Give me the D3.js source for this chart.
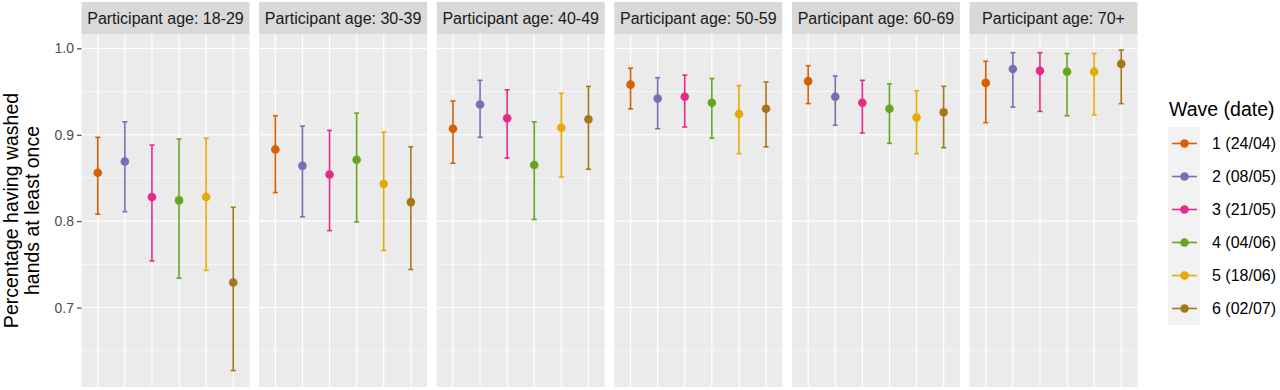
<!DOCTYPE html>
<html>
<head>
<meta charset="utf-8">
<script src="https://cdn.jsdelivr.net/npm/d3@7"></script>
<style>
  html, body { margin: 0; padding: 0; background: #fff; }
  svg { display: block; font-family: "Liberation Sans", Arial, Helvetica, sans-serif; }
</style>
</head>
<body>
<svg id="chart" width="1280" height="390"></svg>
<script>
// ---- data ----
const ageGroups = ["18-29", "30-39", "40-49", "50-59", "60-69", "70+"];
const waves = ["1 (24/04)", "2 (08/05)", "3 (21/05)", "4 (04/06)", "5 (18/06)", "6 (02/07)"];
const waveColors = ["#D95F02", "#7570B3", "#E7298A", "#66A61E", "#E6AB02", "#A6761D"];
// estimates per age group (rows) and wave (columns)
const estimate = [
  [0.856, 0.869, 0.828, 0.824, 0.828, 0.729],
  [0.883, 0.864, 0.854, 0.871, 0.843, 0.822],
  [0.907, 0.935, 0.919, 0.865, 0.908, 0.918],
  [0.958, 0.942, 0.944, 0.937, 0.924, 0.930],
  [0.962, 0.944, 0.937, 0.930, 0.920, 0.926],
  [0.960, 0.976, 0.974, 0.973, 0.973, 0.982]
];
const lower = [
  [0.808, 0.811, 0.754, 0.734, 0.743, 0.627],
  [0.833, 0.805, 0.789, 0.799, 0.766, 0.744],
  [0.867, 0.897, 0.873, 0.802, 0.851, 0.860],
  [0.930, 0.907, 0.909, 0.896, 0.878, 0.886],
  [0.936, 0.911, 0.902, 0.890, 0.878, 0.885],
  [0.914, 0.932, 0.927, 0.922, 0.923, 0.936]
];
const upper = [
  [0.897, 0.915, 0.888, 0.895, 0.896, 0.816],
  [0.922, 0.910, 0.905, 0.925, 0.903, 0.886],
  [0.939, 0.963, 0.952, 0.915, 0.948, 0.956],
  [0.977, 0.966, 0.969, 0.965, 0.957, 0.961],
  [0.980, 0.968, 0.963, 0.959, 0.951, 0.956],
  [0.985, 0.995, 0.995, 0.994, 0.994, 0.998]
];
const yTicks = [0.7, 0.8, 0.9, 1.0];
const yMinor = [0.65, 0.75, 0.85, 0.95];

// ---- layout ----
const svg = d3.select("#chart");
const panelLeft = 81.5, panelW = 168, panelGap = 9.6;
const stripTop = 2, stripH = 32;
const plotTop = stripTop + stripH, plotBottom = 387;

const y = d3.scaleLinear().domain([0.608, 1.0166]).range([plotBottom, plotTop]);
const panelX = d3.scaleBand().domain(ageGroups)
  .range([panelLeft, panelLeft + 6 * panelW + 5 * panelGap])
  .paddingInner(panelGap / (panelW + panelGap)).paddingOuter(0);

ageGroups.forEach((age, gi) => {
  const x0 = panelX(age);
  const bw = panelX.bandwidth();
  const x = d3.scalePoint().domain(waves).range([x0, x0 + bw]).padding(0.6);
  const g = svg.append("g");

  // strip
  g.append("rect").attr("x", x0).attr("y", stripTop).attr("width", bw).attr("height", stripH)
    .attr("fill", "#D9D9D9");
  g.append("text").attr("x", x0 + bw / 2).attr("y", stripTop + stripH / 2 + 5.5)
    .attr("text-anchor", "middle").attr("font-size", 16).attr("fill", "#1A1A1A")
    .text("Participant age: " + age);

  // panel background
  g.append("rect").attr("x", x0).attr("y", plotTop).attr("width", bw).attr("height", plotBottom - plotTop)
    .attr("fill", "#EBEBEB");

  // minor grid
  g.selectAll(".minor").data(yMinor).join("line")
    .attr("x1", x0).attr("x2", x0 + bw)
    .attr("y1", d => y(d)).attr("y2", d => y(d))
    .attr("stroke", "#fff").attr("stroke-width", 0.6);
  // major grid
  g.selectAll(".major").data(yTicks).join("line")
    .attr("x1", x0).attr("x2", x0 + bw)
    .attr("y1", d => y(d)).attr("y2", d => y(d))
    .attr("stroke", "#fff").attr("stroke-width", 1.2);
  g.selectAll(".vmajor").data(waves).join("line")
    .attr("x1", d => x(d)).attr("x2", d => x(d))
    .attr("y1", plotTop).attr("y2", plotBottom)
    .attr("stroke", "#fff").attr("stroke-width", 1.2);

  // error bars and points
  waves.forEach((w, wi) => {
    const cx = x(w), col = waveColors[wi];
    const lo = lower[gi][wi], hi = upper[gi][wi], est = estimate[gi][wi];
    g.append("line").attr("x1", cx).attr("x2", cx).attr("y1", y(lo)).attr("y2", y(hi))
      .attr("stroke", col).attr("stroke-width", 1.6);
    [lo, hi].forEach(v => {
      g.append("line").attr("x1", cx - 2.5).attr("x2", cx + 2.5).attr("y1", y(v)).attr("y2", y(v))
        .attr("stroke", col).attr("stroke-width", 1.6);
    });
    g.append("circle").attr("cx", cx).attr("cy", y(est)).attr("r", 4.3).attr("fill", col);
  });
});

// y axis
const yAxis = d3.axisLeft(y).tickValues(yTicks).tickFormat(d3.format(".1f")).tickSize(4.5).tickPadding(3);
const ay = svg.append("g").attr("transform", `translate(${panelLeft},0)`).call(yAxis);
ay.select(".domain").remove();
ay.selectAll(".tick line").attr("stroke", "#333333").attr("stroke-width", 1.1);
ay.selectAll(".tick text").attr("font-size", 14).attr("fill", "#4D4D4D")
  .attr("font-family", "Liberation Sans, Arial, sans-serif");

// y title
const yt = svg.append("text")
  .attr("transform", `translate(0,${(plotTop + plotBottom) / 2}) rotate(-90)`)
  .attr("text-anchor", "middle").attr("font-size", 19.5).attr("fill", "#000");
yt.append("tspan").attr("x", 0).attr("y", 17.5).text("Percentage having washed");
yt.append("tspan").attr("x", 0).attr("y", 38.5).text("hands at least once");

// legend
const leg = svg.append("g");
leg.append("text").attr("x", 1169).attr("y", 116).attr("font-size", 19.5).attr("fill", "#000")
  .text("Wave (date)");
const keyTop = 127, keyH = 33, keyX = 1168, keyW = 32;
leg.append("rect").attr("x", keyX).attr("y", keyTop).attr("width", keyW).attr("height", keyH * waves.length)
  .attr("fill", "#F2F2F2");
waves.forEach((w, i) => {
  const cy = keyTop + keyH * i + keyH / 2;
  leg.append("line").attr("x1", keyX + 4).attr("x2", keyX + keyW - 3).attr("y1", cy).attr("y2", cy)
    .attr("stroke", waveColors[i]).attr("stroke-width", 1.6);
  leg.append("circle").attr("cx", keyX + keyW / 2 + 0.5).attr("cy", cy).attr("r", 4.3).attr("fill", waveColors[i]);
  leg.append("text").attr("x", 1212).attr("y", cy + 5.5).attr("font-size", 16).attr("fill", "#000").text(w);
});
</script>
</body>
</html>
